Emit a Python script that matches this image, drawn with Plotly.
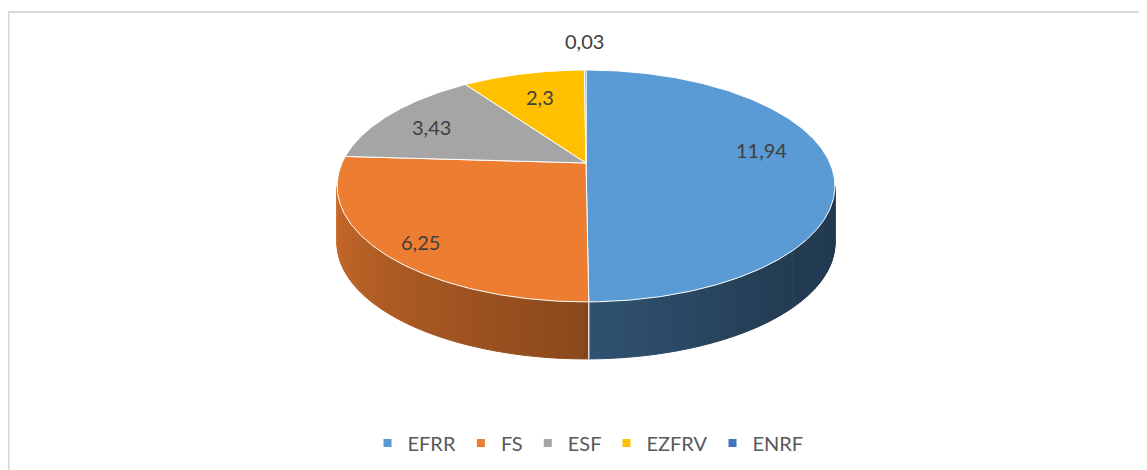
import numpy as np
import plotly.graph_objects as go

# ---------------- data ----------------
CATEGORIES = ["EFRR", "FS", "ESF", "EZFRV", "ENRF"]
VALUES = [11.94, 6.25, 3.43, 2.3, 0.03]
COLORS = ["#5B9BD5", "#ED7D31", "#A5A5A5", "#FFC000", "#4472C4"]

# ---------------- style / geometry (screen pixels) ----------------
W, H = 1147, 470
OFF = 8                  # default page body margin
CX, CY = 586, 163        # apex of the pie on screen
A, B, K = 244, 111.4, 0.198  # perspective ellipse parameters
DEPTH = 57
LABEL_R = [0.72, 0.83, 0.78, 0.70, 1.40]
LABEL_DY = [-13, 7, 3, 0, 0]
LIGHT_ANG = [101.4, 140, 179.5, 180.5, 258.6]
LIGHT_F = [0.37, 0.40, 0.53, 0.59, 0.85]
FONT = "Lato, 'Open Sans', sans-serif"


def proj(theta, r=1.0):
    t = np.radians(theta)
    u = r * np.sin(t)
    v = r * np.cos(t)
    d = 1 + K * v
    return CX + A * u / d, CY - B * v / d


def hex_rgb(h):
    h = h.lstrip("#")
    return [int(h[i:i + 2], 16) for i in (0, 2, 4)]


total = sum(VALUES)
bounds = [0.0]
for v in VALUES:
    bounds.append(bounds[-1] + v / total * 360.0)

TH_R = np.degrees(np.arccos(-K))          # right silhouette
TH_L = 360 - TH_R                          # left silhouette

fig = go.Figure()

# ---- side walls (gradient strips) ----
for i, col in enumerate(COLORS):
    a, b = bounds[i], bounds[i + 1]
    s0, s1 = max(a, TH_R), min(b, TH_L)
    if s1 <= s0:
        continue
    n = max(1, int(np.ceil((s1 - s0) / 1.0)))
    edges = np.linspace(s0, s1, n + 1)
    base = np.array(hex_rgb(col))
    for j in range(n):
        t0, t1 = edges[j], edges[j + 1]
        ts = np.linspace(t0, t1, 4)
        xt, yt = proj(ts)
        xs = list(xt) + list(xt[::-1]) + [xt[0]]
        ys = list(yt) + list((yt + DEPTH)[::-1]) + [yt[0]]
        f = np.interp((t0 + t1) / 2, LIGHT_ANG, LIGHT_F)
        c = np.clip(base * f, 0, 255).astype(int)
        cs = "rgb(%d,%d,%d)" % tuple(c)
        fig.add_trace(go.Scatter(x=xs, y=ys, mode="lines", fill="toself",
                                 fillcolor=cs, line=dict(color=cs, width=1),
                                 hoverinfo="skip", showlegend=False))

# white separators on side wall
for bnd in bounds[1:-1]:
    if TH_R < bnd < TH_L:
        x0, y0 = proj(bnd)
        fig.add_trace(go.Scatter(x=[x0, x0], y=[y0, y0 + DEPTH], mode="lines",
                                 line=dict(color="white", width=1.2),
                                 hoverinfo="skip", showlegend=False))

# ---- top face slices ----
for i, col in enumerate(COLORS):
    a, b = bounds[i], bounds[i + 1]
    n = max(2, int(np.ceil((b - a) / 0.5)) + 1)
    ts = np.linspace(a, b, n)
    xt, yt = proj(ts)
    xs = [CX] + list(xt) + [CX]
    ys = [CY] + list(yt) + [CY]
    fig.add_trace(go.Scatter(x=xs, y=ys, mode="lines", fill="toself",
                             fillcolor=col, line=dict(color="white", width=1),
                             hoverinfo="skip", showlegend=False))

# ---- legend entries ----
for name, col in zip(CATEGORIES, COLORS):
    fig.add_trace(go.Scatter(x=[None], y=[None], mode="markers", name=name,
                             marker=dict(symbol="square", size=8, color=col),
                             showlegend=True))

# ---- data labels ----
for i, v in enumerate(VALUES):
    mid = (bounds[i] + bounds[i + 1]) / 2
    lx, ly = proj(mid, LABEL_R[i])
    fig.add_annotation(x=lx, y=ly + LABEL_DY[i], text=str(v).replace(".", ","),
                       showarrow=False, xanchor="center", yanchor="middle",
                       font=dict(family=FONT, size=20, color="#404040"))

# ---- chart border ----
fig.add_shape(type="rect", xref="paper", yref="paper",
              x0=0.6 / W, x1=1.02, y0=-0.02, y1=1 - (12 - OFF) / H,
              line=dict(color="#d9d9d9", width=2), fillcolor="rgba(0,0,0,0)",
              layer="below")

fig.update_layout(
    width=W, height=H,
    margin=dict(l=0, r=0, t=0, b=0),
    paper_bgcolor="white", plot_bgcolor="white",
    xaxis=dict(range=[OFF, W + OFF], visible=False, fixedrange=True),
    yaxis=dict(range=[H + OFF, OFF], visible=False, fixedrange=True),
    showlegend=True,
    legend=dict(orientation="h", x=(588 - OFF) / W, xanchor="center",
                y=1 - (443 - OFF) / H, yanchor="middle",
                font=dict(family=FONT, size=20, color="#595959"),
                bgcolor="rgba(0,0,0,0)", itemclick=False, itemdoubleclick=False),
    font=dict(family=FONT),
)

fig.write_html("out.html")
